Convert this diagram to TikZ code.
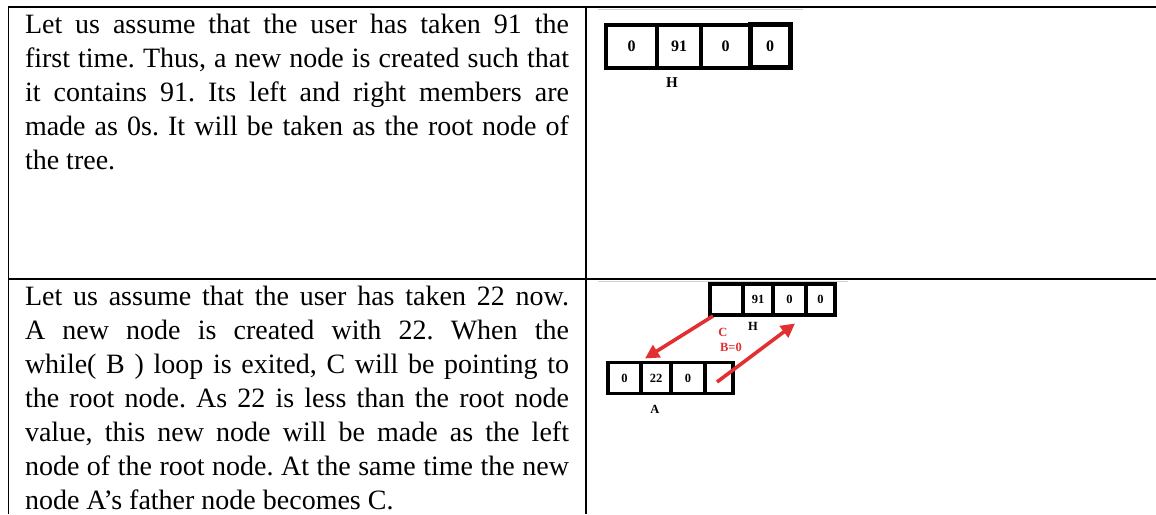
\documentclass[tikz,border=0pt]{standalone}
\usepackage{fontspec}
\setmainfont{Liberation Serif}
\usetikzlibrary{arrows.meta}
\definecolor{mred}{RGB}{226,48,48}
\frenchspacing
\begin{document}
\begin{tikzpicture}[x=1pt,y=-1pt,
  rule/.style={line width=1.5pt},
  faint/.style={line width=1pt, draw=gray!35},
  txt/.style={anchor=base west, inner sep=0, outer sep=0, font=\fontsize{28}{34}\selectfont},
  cellbig/.style={draw, line width=4pt, inner sep=0, outer sep=0, anchor=north west,
    minimum height=43pt, minimum width=#1, font=\fontsize{16}{16}\selectfont\bfseries},
  cellsmall/.style={draw, line width=3.2pt, inner sep=0, outer sep=0, anchor=north west,
    minimum height=31pt, minimum width=#1, font=\fontsize{12.5}{12.5}\selectfont\bfseries},
  lbl/.style={inner sep=0, font=\fontsize{#1}{#1}\selectfont\bfseries},
  redlbl/.style={inner sep=0, text=mred, font=\fontsize{12.5}{12.5}\selectfont\bfseries},
  redarr/.style={draw=mred, line width=3.6pt, -{Triangle[length=14pt,width=14pt]}}
]
\useasboundingbox (0,0) rectangle (1156,514);
% table rules
\draw[rule] (8.5,7) -- (1156,7);
\draw[rule] (8.5,279) -- (1156,279);
\draw[rule] (8.5,6.25) -- (8.5,514);
\draw[rule] (586,6.25) -- (586,514);
\draw[faint] (598,9) -- (803,9);
\draw[faint] (598,281.5) -- (848,281.5);

% cell 1 text
\node[txt] (l1) at (25,33) {\makebox[544pt][s]{Let us assume that the user has taken 91 the}};
\node[txt] (l2) at (25,67) {\makebox[544pt][s]{first time. Thus, a new node is created such that}};
\node[txt] (l3) at (25,101) {\makebox[544pt][s]{it contains 91. Its left and right members are}};
\node[txt] (l4) at (25,135) {\makebox[544pt][s]{made as 0s. It will be taken as the root node of}};
\node[txt] (l5) at (25,169) {the tree.};

% cell 2 text
\node[txt] (m1) at (25,305) {\makebox[544pt][s]{Let us assume that the user has taken 22 now.}};
\node[txt] (m2) at (25,339) {\makebox[544pt][s]{A new node is created with 22. When the}};
\node[txt] (m3) at (25,373) {\makebox[544pt][s]{while( B ) loop is exited, C will be pointing to}};
\node[txt] (m4) at (25,407) {\makebox[544pt][s]{the root node. As 22 is less than the root node}};
\node[txt] (m5) at (25,441) {\makebox[544pt][s]{value, this new node will be made as the left}};
\node[txt] (m6) at (25,475) {\makebox[544pt][s]{node of the root node. At the same time the new}};
\node[txt] (m7) at (25,509) {node A’s father node becomes C.};

% diagram 1
\node[cellbig=51pt] (ha) at (606,24.5) {0};
\node[cellbig=44pt] (hb) at (ha.north east) {91};
\node[cellbig=49pt] (hc) at (hb.north east) {0};
\node[cellbig=40pt, line width=5pt] (hd) at (hc.north east) {0};
\node[lbl=15] (hlab) at (672,83) {H};

% diagram 2: root node H
\node[cellsmall=33pt] (ra) at (710,284) {};
\node[cellsmall=30pt] (rb) at (ra.north east) {91};
\node[cellsmall=33pt] (rc) at (rb.north east) {0};
\node[cellsmall=29pt, line width=4pt] (rd) at (rc.north east) {0};
\node[lbl=12.5] (rlab) at (753,326) {H};
\node[redlbl] (clab) at (723,332) {C};
\node[redlbl] (blab) at (731,347) {B=0};

% diagram 2: new node A
\node[cellsmall=33pt] (aa) at (608,362.5) {0};
\node[cellsmall=30pt] (ab) at (aa.north east) {22};
\node[cellsmall=34pt] (ac) at (ab.north east) {0};
\node[cellsmall=28pt] (ad) at (ac.north east) {};
\node[lbl=12.5] (alab) at (655,409) {A};

% arrows
\draw[redarr] ([shift={(3,1)}]ra.south west) -- ([shift={(4,-4)}]ab.north west);
\draw[redarr] ([shift={(-2,4)}]ad.center) -- ([shift={(-11,8.5)}]rc.south east);
\end{tikzpicture}
\end{document}
